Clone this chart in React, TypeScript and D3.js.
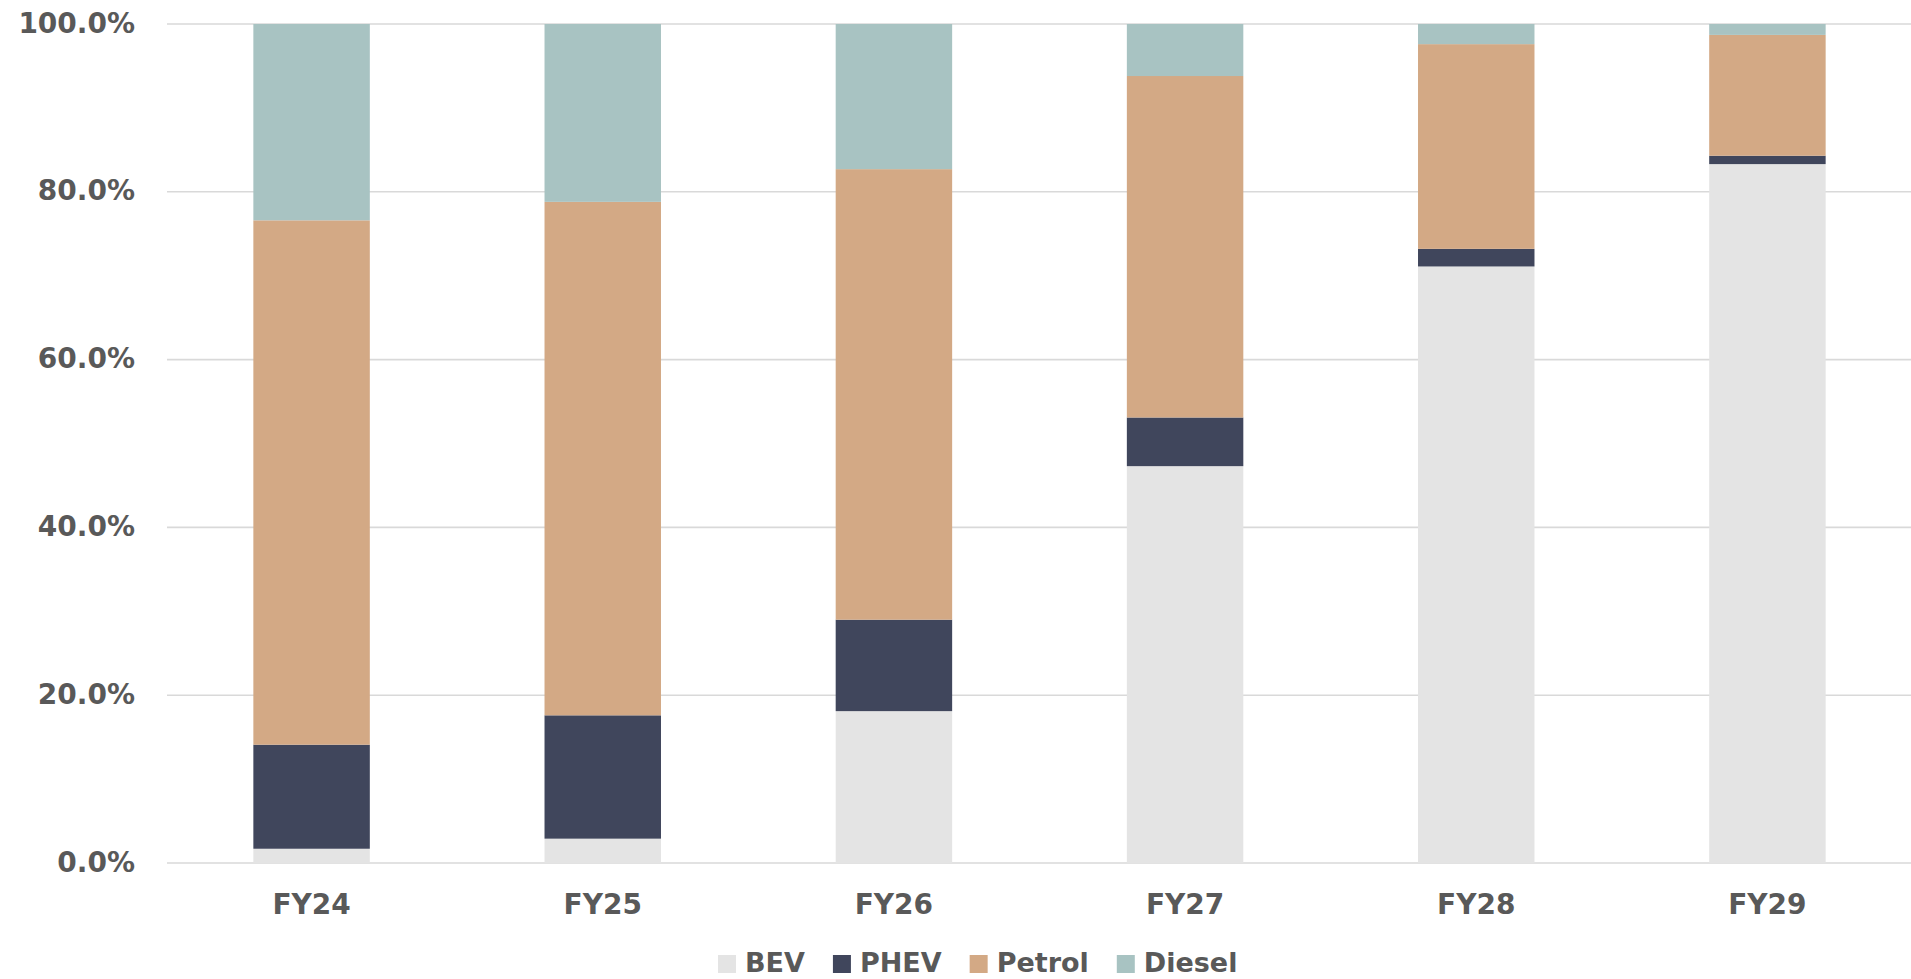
import * as d3 from 'd3';
import React, {useEffect} from 'react';

// shares of new car sales, percent
const years = ["FY24", "FY25", "FY26", "FY27", "FY28", "FY29"];
const bev = [1.7, 2.9, 18.1, 47.3, 71.1, 83.3];
const phev = [12.4, 14.7, 10.9, 5.8, 2.1, 1.0];
const petrol = [62.5, 61.2, 53.7, 40.7, 24.4, 14.4];
const diesel = [23.4, 21.2, 17.3, 6.2, 2.4, 1.3];

const seriesNames = ["BEV", "PHEV", "Petrol", "Diesel"];
const colors = ["#e4e4e4", "#40465c", "#d3a985", "#a8c3c2"];
const yTicks = [0, 0.2, 0.4, 0.6, 0.8, 1.0];

export default function App() {
  const chartRef = React.useRef(null);

  useEffect(() => {
    drawChart();
  }, []);

  function drawChart() {
    const container = d3.select(chartRef.current);
    container.selectAll("*").remove();

    const width = 1911, height = 979;
    const font = "'DejaVu Sans', sans-serif";
    const textColor = "#595959";

    const svg = container
      .append("svg")
      .attr("width", width)
      .attr("height", height)
      .style("display", "block");

    const rows = years.map((yr, i) => ({
      year: yr,
      BEV: bev[i] / 100,
      PHEV: phev[i] / 100,
      Petrol: petrol[i] / 100,
      Diesel: diesel[i] / 100,
    }));

    const x = d3.scaleBand()
      .domain(years)
      .range([166, 1913])
      .padding(0);

    const y = d3.scaleLinear()
      .domain([0, 1])
      .range([863, 24]);

    // gridlines
    svg.append("g")
      .selectAll("line")
      .data(yTicks)
      .enter()
      .append("line")
      .attr("x1", 167)
      .attr("x2", width)
      .attr("y1", (d) => y(d))
      .attr("y2", (d) => y(d))
      .attr("stroke", "#d9d9d9")
      .attr("stroke-width", 1.6);

    // y labels
    const fmt = d3.format(".1%");
    svg.append("g")
      .selectAll("text")
      .data(yTicks)
      .enter()
      .append("text")
      .attr("x", 135)
      .attr("y", (d) => y(d) + 8.5)
      .attr("text-anchor", "end")
      .attr("font-family", font)
      .attr("font-weight", "bold")
      .attr("font-size", 28)
      .attr("fill", textColor)
      .text((d) => fmt(d));

    // stacked bars
    const stacked = d3.stack().keys(seriesNames)(rows);
    const barW = x.bandwidth() * 0.4;

    svg.append("g")
      .selectAll("g")
      .data(stacked)
      .enter()
      .append("g")
      .attr("fill", (d, i) => colors[i])
      .selectAll("rect")
      .data((d) => d)
      .enter()
      .append("rect")
      .attr("x", (d) => x(d.data.year) + (x.bandwidth() - barW) / 2)
      .attr("width", barW)
      .attr("y", (d) => y(d[1]))
      .attr("height", (d) => y(d[0]) - y(d[1]));

    // x labels
    svg.append("g")
      .selectAll("text")
      .data(years)
      .enter()
      .append("text")
      .attr("x", (d) => x(d) + x.bandwidth() / 2)
      .attr("y", 914)
      .attr("text-anchor", "middle")
      .attr("font-family", font)
      .attr("font-weight", "bold")
      .attr("font-size", 28)
      .attr("fill", textColor)
      .text((d) => d);

    // legend
    const legend = svg.append("g");
    let lx = 718;
    seriesNames.forEach((name, i) => {
      legend.append("rect")
        .attr("x", lx)
        .attr("y", 955)
        .attr("width", 18)
        .attr("height", 18)
        .attr("fill", colors[i]);
      const t = legend.append("text")
        .attr("x", lx + 27)
        .attr("y", 972)
        .attr("font-family", font)
        .attr("font-weight", "bold")
        .attr("font-size", 27)
        .attr("fill", textColor)
        .text(name);
      const w = t.node().getComputedTextLength();
      lx = lx + 27 + w + 28;
    });
  }

  return (
    <div ref={chartRef} style={{position: "absolute", left: 0, top: 0}}></div>
  );
}
